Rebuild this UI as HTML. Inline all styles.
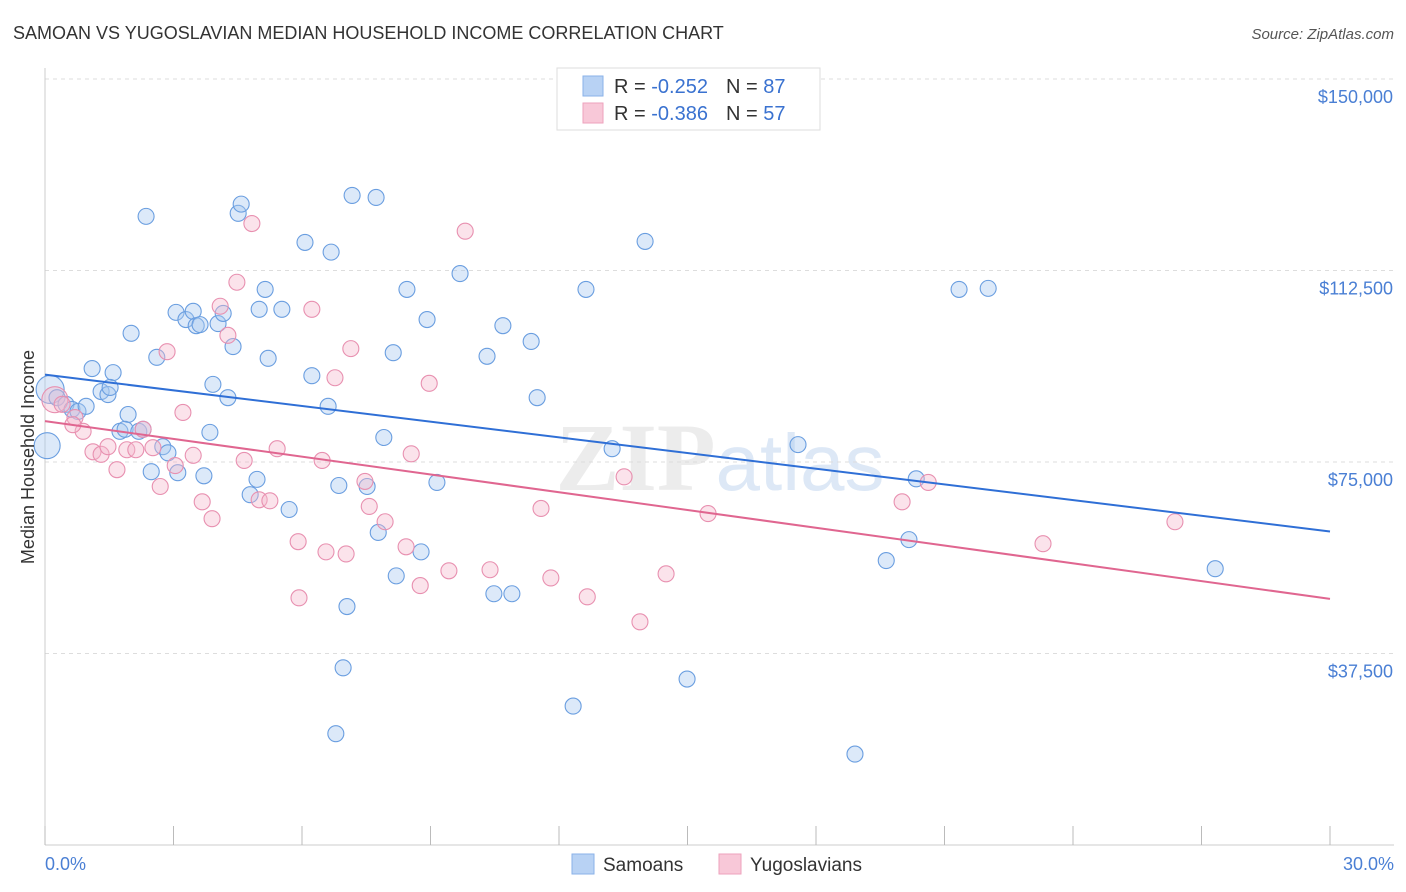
<!DOCTYPE html>
<html><head><meta charset="utf-8"><style>
body{margin:0;background:#fff;font-family:"Liberation Sans",sans-serif;}
svg{display:block}
</style></head><body>
<svg id="chart" width="1406" height="892" viewBox="0 0 1406 892" xmlns="http://www.w3.org/2000/svg">
<text x="13" y="39" font-size="18" fill="#333" font-family="Liberation Sans, sans-serif">SAMOAN VS YUGOSLAVIAN MEDIAN HOUSEHOLD INCOME CORRELATION CHART</text>
<text x="1394" y="39" font-size="15" fill="#555" text-anchor="end" font-style="italic">Source: ZipAtlas.com</text>
<text x="720" y="490" font-size="96" fill="#ececec" text-anchor="middle" font-family="Liberation Serif, serif" font-weight="bold">ZIP<tspan fill="#dde8f6" font-family="Liberation Sans, sans-serif" font-weight="normal" font-size="80">atlas</tspan></text>
<g id="grid"></g>
<g id="axes"></g>
<g id="pts"></g>
<g id="lines"></g>
<text transform="translate(34,457) rotate(-90)" font-size="18" fill="#333" text-anchor="middle">Median Household Income</text>
<text x="45" y="870" font-size="18" fill="#4a7fd4">0.0%</text>
<text x="1394" y="870" font-size="18" fill="#4a7fd4" text-anchor="end">30.0%</text>
<g>
<rect x="557" y="68" width="263" height="62" fill="#fff" stroke="#ddd"/>
<rect x="583" y="76" width="20" height="20" fill="#b8d2f4" stroke="#8ab2e8"/>
<rect x="583" y="103" width="20" height="20" fill="#f8c8d8" stroke="#eea2bc"/>
<text x="614" y="93" font-size="20" fill="#333">R = <tspan fill="#3a72d0">-0.252</tspan><tspan dx="18">N = </tspan><tspan fill="#3a72d0">87</tspan></text>
<text x="614" y="120" font-size="20" fill="#333">R = <tspan fill="#3a72d0">-0.386</tspan><tspan dx="18">N = </tspan><tspan fill="#3a72d0">57</tspan></text>
</g>
<g>
<rect x="572" y="854" width="22" height="20" fill="#b8d2f4" stroke="#8ab2e8"/>
<text x="603" y="871" font-size="19" fill="#333">Samoans</text>
<rect x="719" y="854" width="22" height="20" fill="#f8c8d8" stroke="#eea2bc"/>
<text x="750" y="871" font-size="19" fill="#333">Yugoslavians</text>
</g>
</svg>
<script>
const yTicks=[37500,75000,112500,150000];
const yTickLabels=["$37,500","$75,000","$112,500","$150,000"];
const xTicks=[0,3,6,9,12,15,18,21,24,27,30];
const samoanX=[0.12,0.05,0.28,0.49,0.63,0.77,0.96,1.10,1.31,1.47,1.59,1.52,1.94,1.75,1.87,2.36,2.01,2.19,2.29,2.48,2.61,2.75,2.87,3.06,3.10,3.29,3.46,3.53,3.62,3.71,3.85,3.92,4.04,4.16,4.27,4.39,4.51,4.58,4.79,4.95,5.00,5.14,5.21,5.53,5.70,6.07,6.23,6.61,6.68,6.86,6.96,6.79,7.05,7.17,7.52,7.73,7.78,7.91,8.13,8.20,8.45,8.78,8.92,9.15,9.69,10.32,10.48,10.69,10.90,11.35,11.49,12.33,12.63,13.24,14.01,14.99,17.58,18.91,19.64,20.17,20.34,21.34,22.02,27.32];
const samoanY=[89.2,78.2,87.6,86.3,85.3,84.9,85.9,93.3,88.8,88.2,92.5,89.6,84.3,81.0,81.4,123.1,100.2,81.0,81.4,73.1,95.5,78.0,76.8,104.3,72.9,102.9,104.5,101.7,101.9,72.3,80.8,90.2,102.1,104.1,87.6,97.6,123.7,125.5,68.6,71.6,104.9,108.8,95.3,104.9,65.7,118.0,91.9,85.9,116.1,70.4,34.7,21.8,46.7,127.2,70.2,126.8,61.2,79.8,96.4,52.7,108.8,57.4,102.9,71.0,111.9,95.7,49.2,101.7,49.2,98.6,87.6,27.2,108.8,77.6,118.2,32.5,78.4,17.8,55.7,59.8,71.7,108.8,109.0,54.1];
const yugoX=[0.23,0.40,0.70,0.89,1.12,1.31,1.47,1.68,1.91,2.12,2.29,2.52,2.69,2.85,3.04,3.22,3.46,3.67,3.90,4.09,4.27,4.48,4.65,4.83,5.00,5.25,5.42,5.91,5.93,6.23,6.47,6.56,6.77,7.03,7.14,7.47,7.57,7.94,8.43,8.55,8.76,8.97,9.43,9.81,10.39,11.58,11.81,12.66,13.52,13.89,14.50,15.48,20.01,20.62,23.30,26.38,0.65];
const yugoY=[87.2,86.3,83.7,81.0,77.0,76.5,78.0,73.5,77.4,77.4,81.4,77.8,70.2,96.6,74.3,84.7,76.3,67.2,63.9,105.5,99.8,110.2,75.3,121.7,67.6,67.4,77.6,59.4,48.4,104.9,75.3,57.4,91.5,57.0,97.2,71.2,66.3,63.3,58.4,76.6,50.8,90.4,53.7,120.2,53.9,65.9,52.3,48.6,72.1,43.7,53.1,64.9,67.2,71.0,59.0,63.3,82.3];
const samoanTrend=[92.1,61.4];
const yugoTrend=[83.0,48.2];

const NS="http://www.w3.org/2000/svg";
const X0=45,X1=1330,YB=845,YT=79;
const xs=v=>X0+(v/30)*(X1-X0);
const ys=v=>YB-(v/150000)*(YB-YT);
function mk(tag,attrs,parent){const e=document.createElementNS(NS,tag);for(const k in attrs)e.setAttribute(k,attrs[k]);parent.appendChild(e);return e;}
const grid=document.getElementById('grid'),axes=document.getElementById('axes'),pts=document.getElementById('pts'),lines=document.getElementById('lines');
yTicks.forEach((t,i)=>{
  const l=mk('line',{x1:X0,x2:1394,y1:ys(t),y2:ys(t),stroke:'#ddd','stroke-dasharray':'4,4'},grid);
  
  
  const tx=mk('text',{x:1393,y:ys(t)+24,'font-size':18,fill:'#4a7fd4','text-anchor':'end'},grid);
  tx.textContent=yTickLabels[i];
  
  
});
const xa=mk('line',{x1:X0,x2:1394,y1:YB,y2:YB,stroke:'#ccc'},axes);


const ya=mk('line',{x1:X0,x2:X0,y1:68,y2:YB,stroke:'#ccc'},axes);


xTicks.forEach(t=>{
  const l=mk('line',{x1:xs(t),x2:xs(t),y1:YB,y2:YB-19,stroke:'#bbb'},axes);
  
  
});
function drawPts(X,Y,fill,stroke,name,bigR){
  X.forEach((x,i)=>{
    const c=mk('circle',{cx:xs(x),cy:ys(Y[i]*1000),r:i<bigR.length?bigR[i]:8,fill:fill,'fill-opacity':0.4,stroke:stroke,'stroke-width':1.1},pts);
    
    
  });
}
drawPts(samoanX,samoanY,'#a8c8f0','#6a9ee0','samoan-point',[14,13]);
drawPts(yugoX,yugoY,'#f5b8cc','#e890b0','yugoslavian-point',[13]);
const bl=mk('line',{x1:xs(0),y1:ys(samoanTrend[0]*1000),x2:xs(30),y2:ys(samoanTrend[1]*1000),stroke:'#2f6fd6','stroke-width':2},lines);


const pl=mk('line',{x1:xs(0),y1:ys(yugoTrend[0]*1000),x2:xs(30),y2:ys(yugoTrend[1]*1000),stroke:'#e06690','stroke-width':2},lines);


</script>
</body></html>
